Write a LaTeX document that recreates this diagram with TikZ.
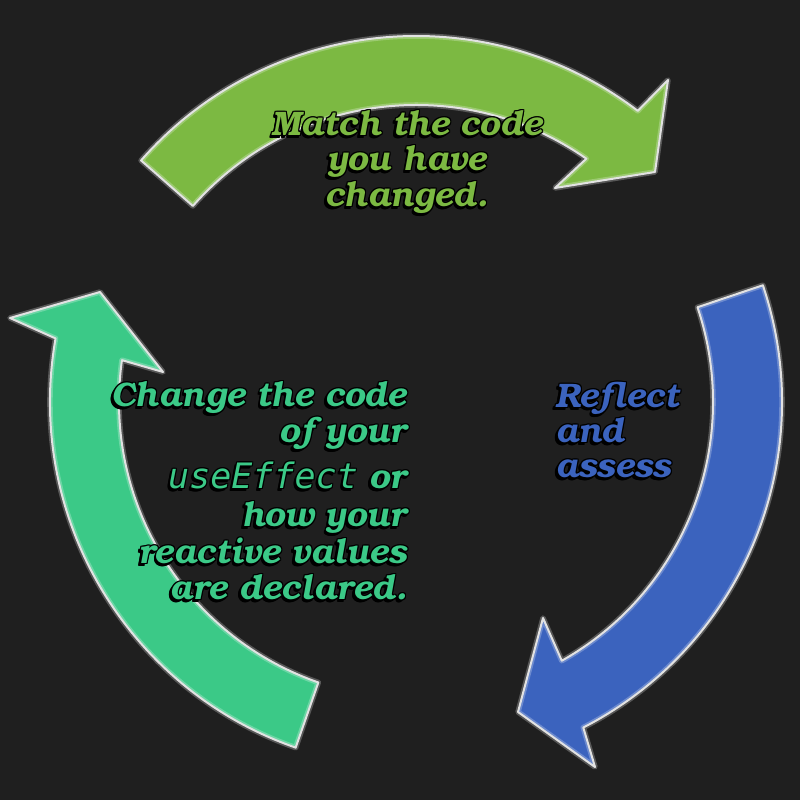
\documentclass[tikz,border=0pt]{standalone}
\usepackage{fontspec}
\setmainfont{DejaVu Serif}
\newfontfamily\bonum{texgyrebonum-bolditalic.otf}
\newfontfamily\monoit{DejaVu Sans Mono}
\definecolor{bg}{HTML}{1F1F1F}
\definecolor{gtop}{HTML}{7CB942}
\definecolor{gleft}{HTML}{3BC987}
\definecolor{bblue}{HTML}{3B63BE}
\definecolor{edge}{HTML}{E2E2E2}
\tikzset{
  lbl/.style={font=\bonum\fontsize{34}{36}\selectfont, inner sep=0pt},
  glow/.style={draw=white, draw opacity=0.25, line width=5.5, line join=round},
  rim/.style={draw=edge, line width=2, line join=round}
}
% #1 colour, #2 tail angle, #3 outer notch angle, #4 inner notch angle,
% #5 outer barb, #6 tip, #7 inner barb
\newcommand\cyclearrow[7]{%
  \path[glow, fill=#1] ([shift={(C)}]#2:366) arc[start angle=#2, end angle=#3, radius=366]
     -- #5 -- #6 -- #7 -- ([shift={(C)}]#4:297) arc[start angle=#4, end angle=#2, radius=297] -- cycle;
  \path[rim] ([shift={(C)}]#2:366) arc[start angle=#2, end angle=#3, radius=366]
     -- #5 -- #6 -- #7 -- ([shift={(C)}]#4:297) arc[start angle=#4, end angle=#2, radius=297] -- cycle;
}
% #1 name, #2 position (x,y without parentheses), #3 anchor, #4 colour, #5 text
\newcommand\shtext[5]{%
  \foreach \dx/\dy [count=\k] in {-2.5/-2.5,-1.5/-2.5,-2.5/-1.5,-1/-1,1/0,0/1,-1/0,0/-1,1/1,1/-1,-1/1}
    \node[lbl, text=black, anchor=#3] (#1-s\k) at ([shift={(\dx,\dy)}]#2) {#5};
  \node[lbl, text=#4, anchor=#3] (#1) at (#2) {#5};
}
\begin{document}
\begin{tikzpicture}[x=1pt,y=1pt]
\fill[bg] (0,0) rectangle (800,800);
\useasboundingbox (0,0) rectangle (800,800);
\coordinate (C) at (416,398);

\cyclearrow{gtop}{138.7}{52.7}{55}{(668,720)}{(655,628)}{(555,612)}
\cyclearrow{bblue}{18.6}{-62.8}{-60.6}{(595,33)}{(518,88)}{(543,182)}
\cyclearrow{gleft}{250.8}{170}{171.9}{(10,482)}{(100,508)}{(163,428)}

\shtext{t1}{407,664}{base}{gtop}{Match the code}
\shtext{t2}{407,629}{base}{gtop}{you have}
\shtext{t3}{407,593}{base}{gtop}{changed.}

\shtext{l1}{407,393}{base east}{gleft}{Change the code}
\shtext{l2}{407,357}{base east}{gleft}{of your}
\shtext{l3}{407,311}{base east}{gleft}{{\monoit\itshape\fontsize{35}{36}\selectfont useEffect} or}
\shtext{l4}{407,273}{base east}{gleft}{how your}
\shtext{l5}{407,236}{base east}{gleft}{reactive values}
\shtext{l6}{407,200}{base east}{gleft}{are declared.}

\shtext{r1}{555,392}{base west}{bblue}{Reflect}
\shtext{r2}{555,357}{base west}{bblue}{and}
\shtext{r3}{555,322}{base west}{bblue}{assess}
\end{tikzpicture}
\end{document}
